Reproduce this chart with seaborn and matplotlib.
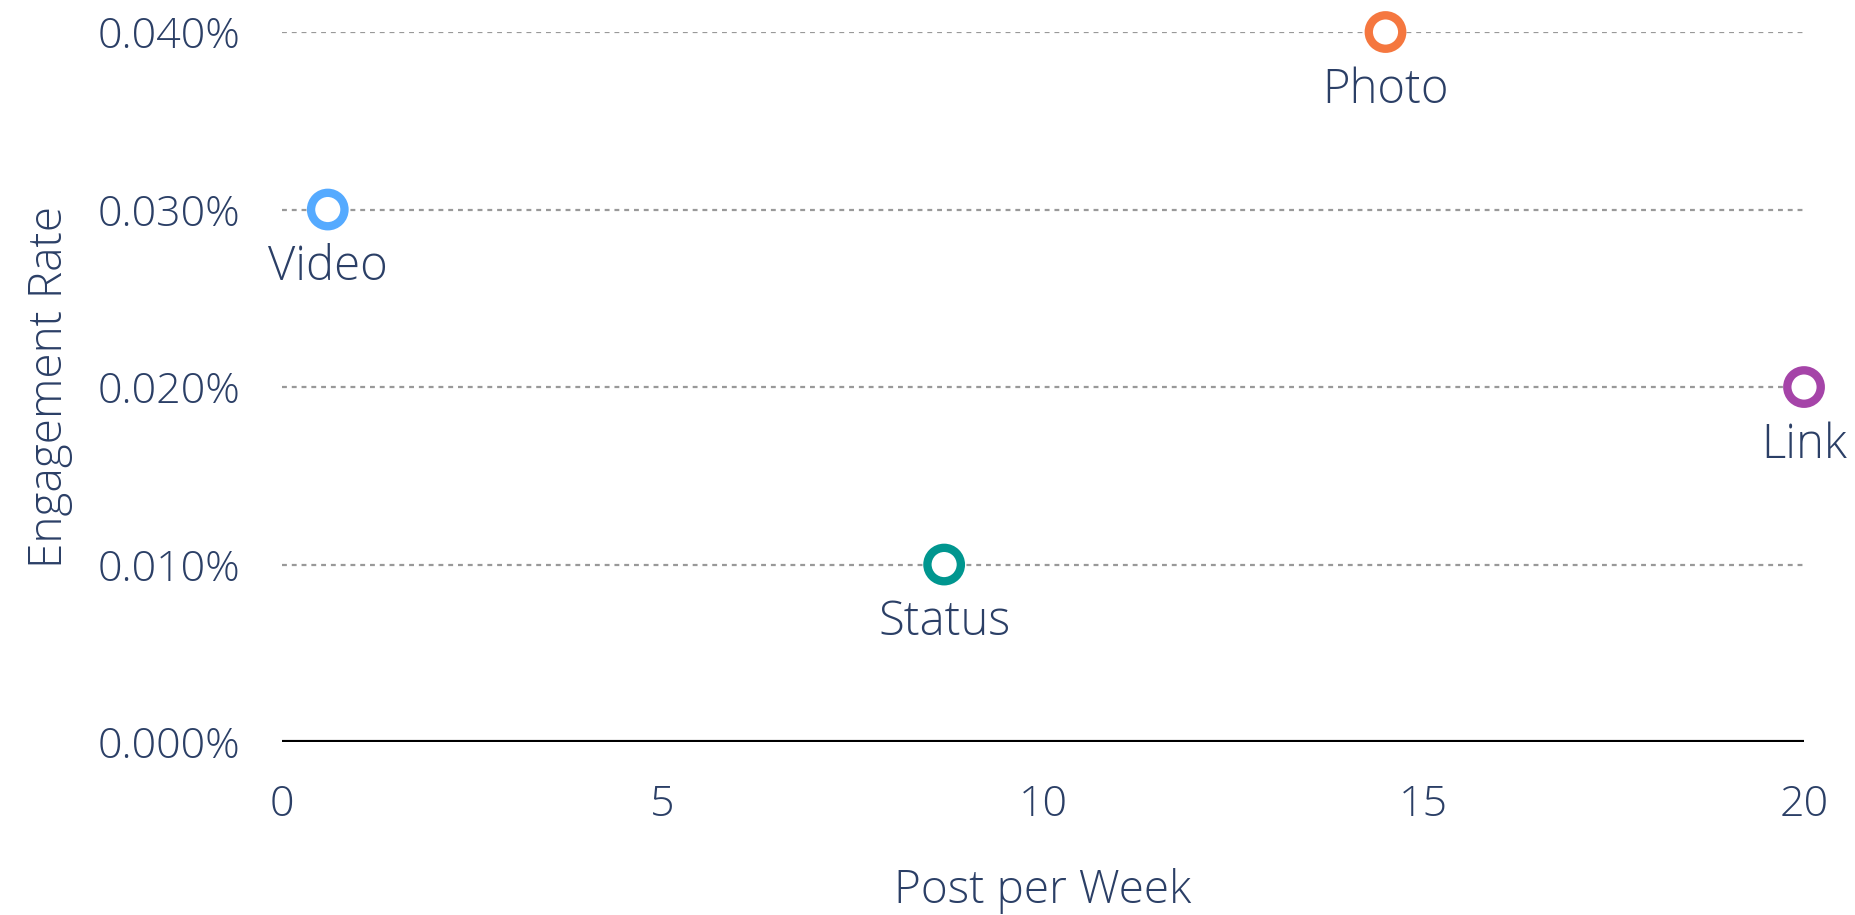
import matplotlib
matplotlib.use("Agg")
import matplotlib.pyplot as plt
import seaborn as sns
import pandas as pd
from matplotlib.ticker import FuncFormatter

categories = ["Video", "Status", "Photo", "Link"]
posts_per_week = [0.6, 8.7, 14.5, 20.0]
engagement_rate = [0.030, 0.010, 0.040, 0.020]
colors = ["#55AAFF", "#00968F", "#F5773F", "#A544A8"]
x_ticks = [0, 5, 10, 15, 20]
y_ticks = [0.0, 0.01, 0.02, 0.03, 0.04]

sns.set_theme(style="white")
plt.rcParams["font.family"] = ["Open Sans", "DejaVu Sans"]
text_color = "#2B3F66"

df = pd.DataFrame({"cat": categories, "x": posts_per_week, "y": engagement_rate})

fig = plt.figure(figsize=(18.56, 9.15), dpi=100)
ax = fig.add_axes([0.152, 0.189, 0.82, 0.776])

for yv in y_ticks[1:]:
    ax.axhline(yv, color="#999999", linestyle=(0, (2.2, 2.2)), linewidth=1.6, zorder=1)
ax.axhline(0, color="black", linewidth=3, zorder=1)

sns.scatterplot(data=df, x="x", y="y", hue="cat", palette=dict(zip(categories, colors)),
                ax=ax, s=580, facecolor="white", linewidth=6, legend=False, zorder=3,
                clip_on=False)
coll = ax.collections[0]
coll.set_edgecolors(colors)
coll.set_facecolors("white")

for c, xv, yv in zip(categories, posts_per_week, engagement_rate):
    ax.annotate(c, (xv, yv), xytext=(0, -42), textcoords="offset points",
                ha="center", va="center", fontsize=34, color=text_color,
                fontweight="light", annotation_clip=False)

ax.set_xlim(0, 20)
ax.set_ylim(0, 0.04)
ax.set_xticks(x_ticks)
ax.set_yticks(y_ticks)
ax.yaxis.set_major_formatter(FuncFormatter(lambda v, p: f"{v:.3f}%"))
ax.tick_params(axis="x", length=0, pad=30, labelsize=31, labelcolor=text_color)
ax.tick_params(axis="y", length=0, pad=30, labelsize=31, labelcolor=text_color)
for lab in ax.get_xticklabels() + ax.get_yticklabels():
    lab.set_fontweight("light")
ax.set_xlabel("Post per Week", fontsize=33, color=text_color, fontweight="light", labelpad=30)
ax.set_ylabel("Engagement Rate", fontsize=33, color=text_color, fontweight="light", labelpad=18)
for s in ax.spines.values():
    s.set_visible(False)
ax.grid(False)

fig.savefig("out.png", dpi=100)
